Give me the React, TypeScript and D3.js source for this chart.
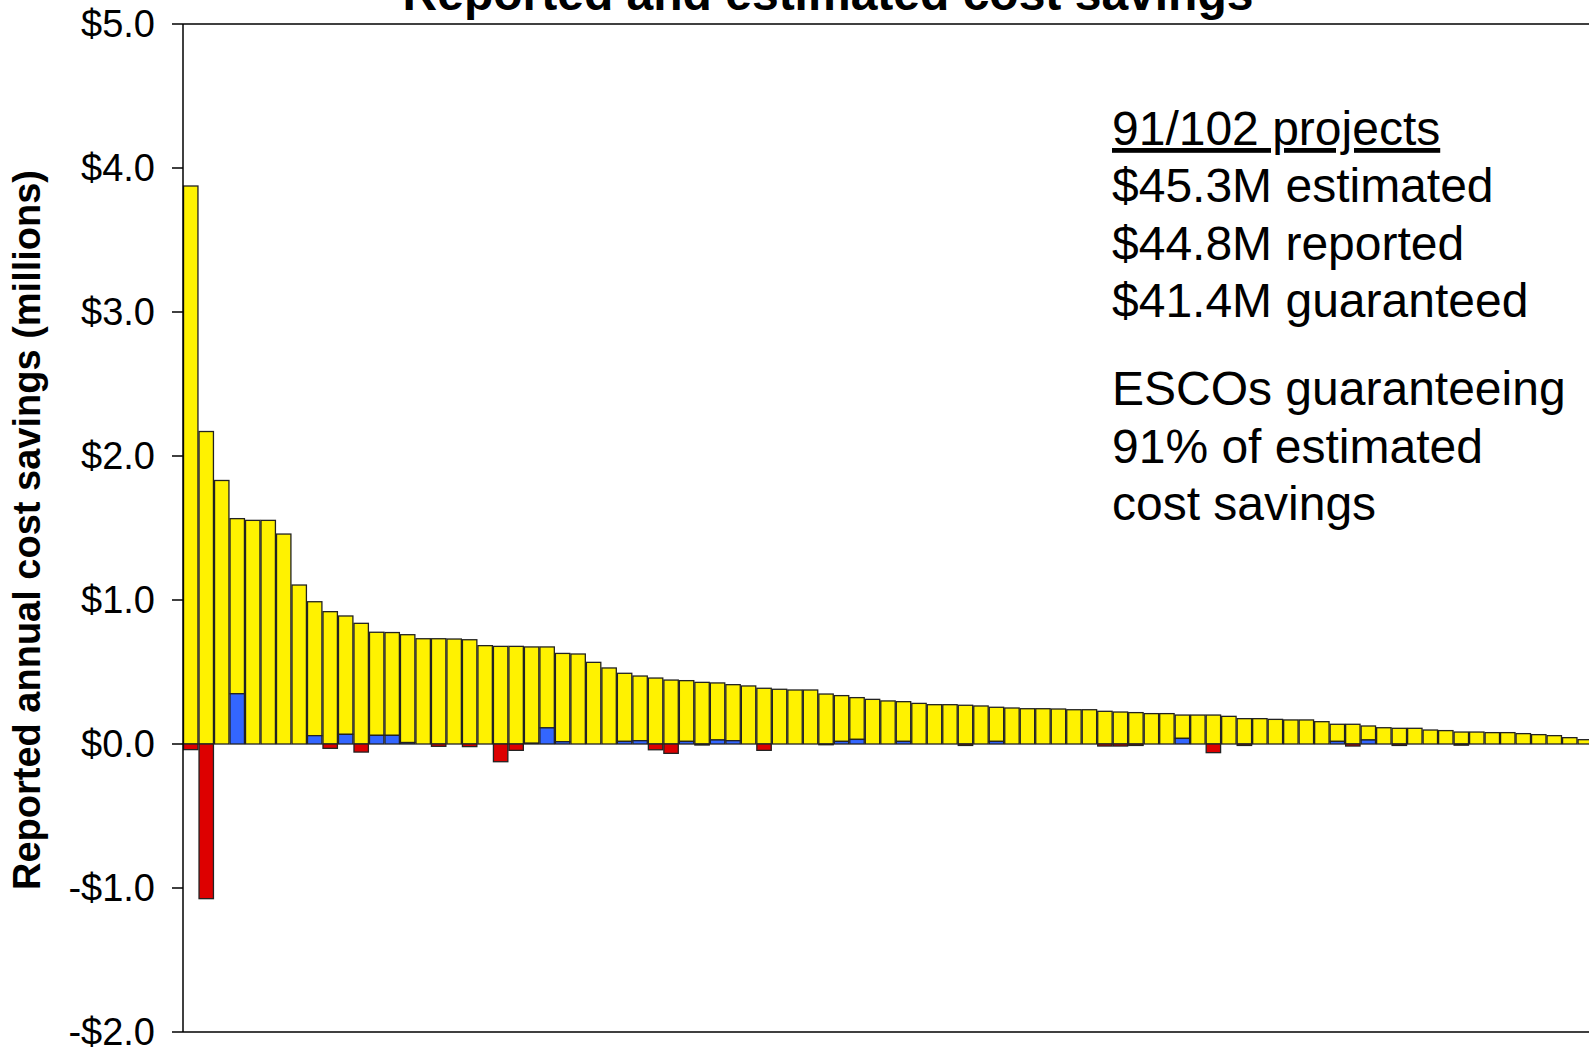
import React from 'react';
import * as d3 from 'd3';

// bar tops (estimated annual savings, $M), one per project, sorted
const estimated = [
  3.875, 2.17, 1.83, 1.565, 1.553, 1.553, 1.458, 1.104, 0.988, 0.919,
  0.889, 0.838, 0.776, 0.774, 0.759, 0.731, 0.731, 0.729, 0.724, 0.683,
  0.678, 0.678, 0.674, 0.674, 0.629, 0.625, 0.567, 0.528, 0.491, 0.472,
  0.458, 0.444, 0.44, 0.428, 0.424, 0.412, 0.403, 0.387, 0.38, 0.375,
  0.375, 0.347, 0.336, 0.322, 0.31, 0.299, 0.294, 0.282, 0.273, 0.273,
  0.269, 0.264, 0.255, 0.25, 0.245, 0.245, 0.243, 0.238, 0.238, 0.227,
  0.222, 0.218, 0.211, 0.211, 0.201, 0.201, 0.201, 0.192, 0.176, 0.176,
  0.171, 0.167, 0.167, 0.155, 0.137, 0.137, 0.125, 0.113, 0.109, 0.109,
  0.097, 0.093, 0.083, 0.083, 0.079, 0.079, 0.072, 0.065, 0.058, 0.044,
  0.03,
];

// reported above estimate (blue)
const overage = [
  0, 0, 0, 0.349, 0, 0, 0, 0, 0.058, 0,
  0.067, 0, 0.06, 0.06, 0.01, 0, 0, 0, 0, 0,
  0, 0, 0.005, 0.112, 0.016, 0, 0, 0, 0.018, 0.023,
  0, 0, 0.018, 0, 0.028, 0.023, 0, 0, 0, 0,
  0, 0, 0.018, 0.032, 0, 0, 0.018, 0, 0, 0,
  0, 0, 0.018, 0, 0, 0, 0, 0, 0, 0,
  0, 0, 0, 0, 0.039, 0, 0, 0, 0, 0,
  0, 0, 0, 0, 0.018, 0, 0.028, 0, 0, 0,
  0, 0, 0, 0, 0, 0, 0, 0, 0, 0,
  0,
];

// reported below estimate (red)
const shortfall = [
  -0.039, -1.074, 0, 0, 0, 0, 0, 0, 0, -0.03,
  0, -0.056, 0, 0, 0, 0, -0.016, 0, -0.018, 0,
  -0.123, -0.044, 0, 0, 0, 0, 0, 0, 0, 0,
  -0.04, -0.065, 0, -0.007, 0, 0, 0, -0.044, 0, 0,
  0, -0.005, 0, 0, 0, 0, 0, 0, 0, 0,
  -0.01, 0, 0, 0, 0, 0, 0, 0, 0, -0.014,
  -0.014, -0.01, 0, 0, 0, 0, -0.06, 0, -0.01, 0,
  0, 0, 0, 0, 0, -0.014, 0, 0, -0.01, 0,
  0, 0, -0.008, 0, 0, 0, 0, 0, 0, 0,
  0,
];

const yTicks = [5, 4, 3, 2, 1, 0, -1, -2];

const notes = [
  '$45.3M estimated',
  '$44.8M reported',
  '$41.4M guaranteed',
];
const notes2 = ['ESCOs guaranteeing', '91% of estimated', 'cost savings'];

const W = 1589;
const H = 1048;
const font = '"Liberation Sans", Arial, sans-serif';

const App = () => {
  const left = 183;
  const right = 1593;
  const y = d3.scaleLinear().domain([-2, 5]).range([1032, 24]);
  const x = d3
    .scaleBand<number>()
    .domain(d3.range(estimated.length))
    .range([left, right])
    .paddingInner(0.07)
    .paddingOuter(0.035);

  const fmt = (v: number) => (v < 0 ? '-$' : '$') + d3.format('.1f')(Math.abs(v));
  const stroke = '#222';

  return (
    <svg width={W} height={H} style={{ position: 'absolute', left: 0, top: 0, background: '#fff' }}>
      <text x={828} y={10} textAnchor="middle" fontFamily={font} fontWeight="bold" fontSize={48}>
        Reported and estimated cost savings
      </text>

      {estimated.map((v, i) => (
        <rect
          key={'y' + i}
          x={x(i)}
          width={x.bandwidth()}
          y={y(v)}
          height={y(overage[i]) - y(v)}
          fill="#FFF200"
          stroke={stroke}
          strokeWidth={1.3}
        />
      ))}
      {overage.map((v, i) =>
        v > 0 ? (
          <rect
            key={'b' + i}
            x={x(i)}
            width={x.bandwidth()}
            y={y(v)}
            height={y(0) - y(v)}
            fill="#3366FF"
            stroke={stroke}
            strokeWidth={1.3}
          />
        ) : null
      )}
      {shortfall.map((v, i) =>
        v < 0 ? (
          <rect
            key={'r' + i}
            x={x(i)}
            width={x.bandwidth()}
            y={y(0)}
            height={y(v) - y(0)}
            fill="#DD0000"
            stroke={stroke}
            strokeWidth={1.3}
          />
        ) : null
      )}

      {/* frame + axis */}
      <line x1={left} x2={W} y1={y(5)} y2={y(5)} stroke="#000" strokeWidth={1.5} />
      <line x1={left} x2={W} y1={y(-2)} y2={y(-2)} stroke="#000" strokeWidth={1.5} />
      <line x1={left} x2={left} y1={y(5)} y2={y(-2)} stroke="#000" strokeWidth={1.5} />
      {yTicks.map((t) => (
        <g key={t}>
          <line x1={172} x2={left} y1={y(t)} y2={y(t)} stroke="#000" strokeWidth={1.5} />
          <text
            x={155}
            y={y(t)}
            dy="0.35em"
            textAnchor="end"
            fontFamily={font}
            fontSize={38}
          >
            {fmt(t)}
          </text>
        </g>
      ))}

      <text
        transform="translate(40,530) rotate(-90)"
        textAnchor="middle"
        fontFamily={font}
        fontWeight="bold"
        fontSize={38}
      >
        Reported annual cost savings (millions)
      </text>

      <text x={1112} y={145} fontFamily={font} fontSize={48} textDecoration="underline">
        91/102 projects
      </text>
      {notes.map((s, i) => (
        <text key={s} x={1112} y={202 + i * 57.5} fontFamily={font} fontSize={48}>
          {s}
        </text>
      ))}
      {notes2.map((s, i) => (
        <text key={s} x={1112} y={405 + i * 57.5} fontFamily={font} fontSize={48}>
          {s}
        </text>
      ))}
    </svg>
  );
};

export default App;
